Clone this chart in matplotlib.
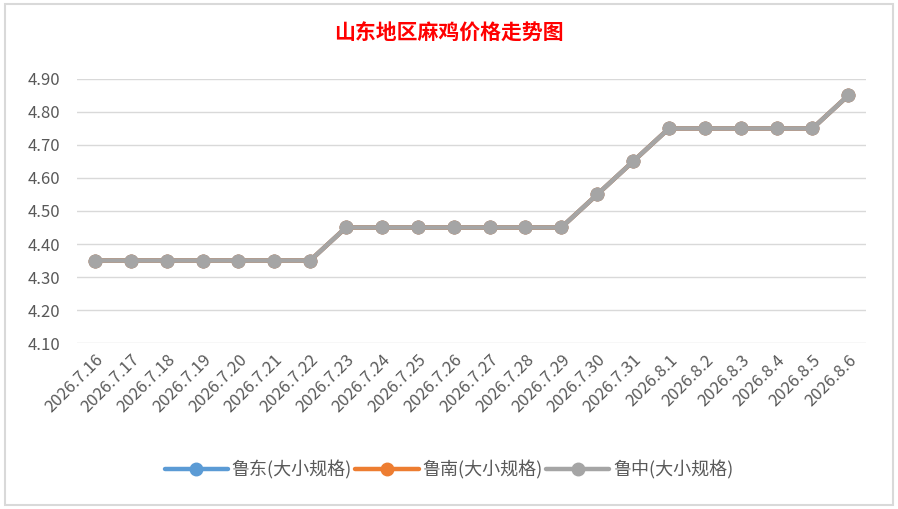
import numpy as np
import matplotlib.pyplot as plt
from matplotlib.patches import Rectangle

plt.rcParams['font.family'] = ['Noto Sans CJK SC', 'DejaVu Sans']

dates = ["2026.7.16", "2026.7.17", "2026.7.18", "2026.7.19", "2026.7.20", "2026.7.21",
         "2026.7.22", "2026.7.23", "2026.7.24", "2026.7.25", "2026.7.26", "2026.7.27",
         "2026.7.28", "2026.7.29", "2026.7.30", "2026.7.31", "2026.8.1", "2026.8.2",
         "2026.8.3", "2026.8.4", "2026.8.5", "2026.8.6"]
# the three regions share the same prices, grey series drawn last covers the others
ludong = [4.35, 4.35, 4.35, 4.35, 4.35, 4.35, 4.35, 4.45, 4.45, 4.45, 4.45, 4.45,
          4.45, 4.45, 4.55, 4.65, 4.75, 4.75, 4.75, 4.75, 4.75, 4.85]
lunan = list(ludong)
luzhong = list(ludong)
names = ["鲁东(大小规格)", "鲁南(大小规格)", "鲁中(大小规格)"]
colors = ["#5B9BD5", "#ED7D31", "#A5A5A5"]

fig = plt.figure(figsize=(8.98, 5.09), dpi=100)
fig.patches.append(Rectangle((0.006, 0.008), 0.988, 0.984, transform=fig.transFigure,
                             fill=False, edgecolor="#D9D9D9", linewidth=1.5))
ax = fig.add_axes([0.0857, 0.326, 0.879, 0.519])

x = np.arange(len(dates))
for vals, name, c in zip([ludong, lunan, luzhong], names, colors):
    ax.plot(x, vals, color=c, linewidth=3.2, marker="o", markersize=9,
            solid_capstyle="round", label=name)

ax.set_xlim(-0.5, len(dates) - 0.5)
ax.set_ylim(4.10, 4.90)
ax.set_yticks(np.arange(4.10, 4.91, 0.10))
ax.set_yticklabels([f"{v:.2f}" for v in np.arange(4.10, 4.91, 0.10)])
ax.set_xticks(x)
ax.set_xticklabels(dates, rotation=45, ha="right", va="top", rotation_mode="anchor")
ax.grid(axis="y", color="#D9D9D9", linewidth=1)
ax.set_axisbelow(True)
for s in ax.spines.values():
    s.set_visible(False)
ax.tick_params(axis="both", length=0, colors="#595959", labelsize=12)
ax.tick_params(axis="y", pad=12)
ax.tick_params(axis="x", pad=6)

fig.text(0.5, 0.935, "山东地区麻鸡价格走势图", color="red", fontsize=15,
         fontweight="bold", ha="center", va="center")

leg = fig.legend(loc="center", bbox_to_anchor=(0.5, 0.077), ncol=3, frameon=False,
                 fontsize=13, handlelength=3.5, columnspacing=0.2, handletextpad=0.2)
for t in leg.get_texts():
    t.set_color("#595959")

fig.savefig("out.png", dpi=100)
